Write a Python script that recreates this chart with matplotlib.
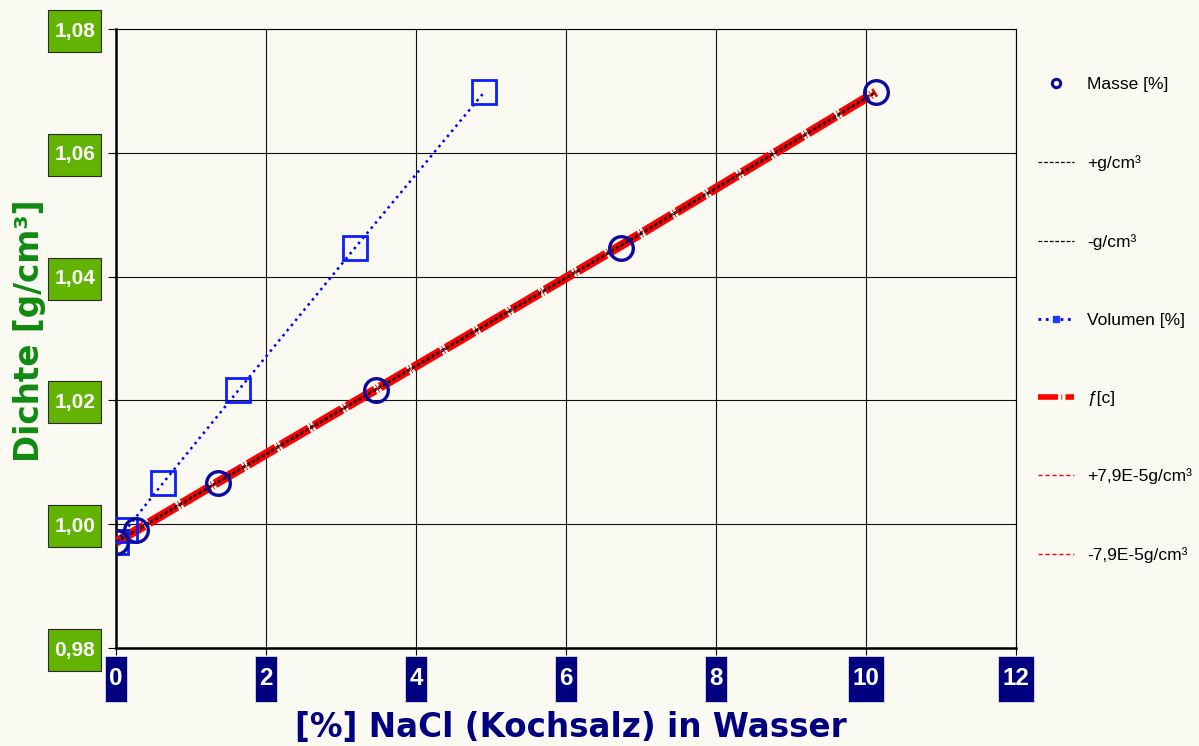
import matplotlib
matplotlib.use("Agg")
import matplotlib.pyplot as plt
from matplotlib.lines import Line2D
from matplotlib.path import Path
import numpy as np

# ---------------- data ----------------
masse_x = [0.0, 0.27, 1.36, 3.47, 6.73, 10.13]
dichte_y = [0.9971, 0.9990, 1.0067, 1.0216, 1.0447, 1.0698]
volumen_x = [0.0, 0.125, 0.63, 1.63, 3.19, 4.91]
fit_x = [0.0, 0.27, 1.36, 3.47, 6.73, 10.13]
fit_y = [0.9971, 0.9990, 1.0068, 1.0218, 1.0450, 1.0698]
band_black = 0.00015
band_red = 0.000079

x_ticks = [0, 2, 4, 6, 8, 10, 12]
x_ticklabels = ["0", "2", "4", "6", "8", "10", "12"]
y_ticks = [0.98, 1.00, 1.02, 1.04, 1.06, 1.08]
y_ticklabels = ["0,98", "1,00", "1,02", "1,04", "1,06", "1,08"]

legend_labels = ["Masse [%]", "+g/cm³", "-g/cm³", "Volumen [%]", "ƒ[c]",
                 "+7,9E-5g/cm³", "-7,9E-5g/cm³"]

# ---------------- style ----------------
BG = "#faf9f2"
GREEN_BOX = "#62b400"
NAVY = "#000080"
CIRCLE_C = "#0a0a9e"
SQUARE_C = "#0a1eff"

fig = plt.figure(figsize=(11.99, 7.46), dpi=100, facecolor=BG)
ax = fig.add_axes([116/1199, 1-648/746, (1016-116)/1199, (648-29)/746])
ax.set_facecolor(BG)

ax.set_xlim(0, 12)
ax.set_ylim(0.98, 1.08)

fx = np.array(fit_x); fy = np.array(fit_y)
# f[c] thick red
ax.plot(fx, fy, color="#ff0000", lw=6.5, dashes=(3.6, 0.27, 0.1, 0.27),
        solid_capstyle="butt", dash_capstyle="butt", zorder=3)
# red thin band
ax.plot(fx, fy + band_red, color="#ff0000", lw=1, dashes=(4, 2.5), zorder=3)
ax.plot(fx, fy - band_red, color="#ff0000", lw=1, dashes=(4, 2.5), zorder=3)
# black band
ax.plot(fx, fy + band_black, color="black", lw=0.9, dashes=(3, 1.5), zorder=4)
ax.plot(fx, fy - band_black, color="black", lw=0.9, dashes=(3, 1.5), zorder=4)
# Volumen
ax.plot(volumen_x, dichte_y, color="#0000ff", lw=1.8, linestyle=":", zorder=4)
ax.plot(volumen_x, dichte_y, linestyle="none", marker="s", ms=17, mfc="none",
        mec=SQUARE_C, mew=2.0, zorder=5)
# Masse
ax.plot(masse_x, dichte_y, linestyle="none", marker="o", ms=17, mfc="none",
        mec=CIRCLE_C, mew=2.4, zorder=6)

# grid & spines
ax.set_xticks(x_ticks)
ax.set_yticks(y_ticks)
ax.grid(True, color="#111111", lw=0.8)
ax.set_axisbelow(True)
for s in ["left", "bottom"]:
    ax.spines[s].set_linewidth(1.8)
for s in ["top", "right"]:
    ax.spines[s].set_linewidth(0.8)
ax.tick_params(axis="y", length=6, width=0.8, pad=9, direction="out")
ax.tick_params(axis="x", length=5, width=0.8, pad=9, direction="out")


def fixed_box(width_px=None, height_px=None, padx=0.0, dy=0.0):
    def box(x0, y0, width, height, mutation_size):
        cx = x0 + width / 2.0
        cy = y0 + height / 2.0 + dy
        w = width_px if width_px is not None else width + 2 * padx
        h = height_px
        verts = [(cx - w/2, cy - h/2), (cx + w/2, cy - h/2), (cx + w/2, cy + h/2),
                 (cx - w/2, cy + h/2), (cx - w/2, cy - h/2)]
        return Path(verts, closed=True)
    return box


ax.set_yticklabels(y_ticklabels, fontsize=15, fontweight="bold", color="white",
                   family=["Liberation Sans", "DejaVu Sans"])
for t in ax.get_yticklabels():
    t.set_bbox(dict(boxstyle=fixed_box(width_px=53, height_px=42), facecolor=GREEN_BOX,
                    edgecolor="#2a2a2a", linewidth=0.8))

ax.set_xticklabels(x_ticklabels, fontsize=17.5, fontweight="bold", color="white",
                   family=["Liberation Sans", "DejaVu Sans"])
for t in ax.get_xticklabels():
    t.set_bbox(dict(boxstyle=fixed_box(height_px=46, padx=4.5), facecolor=NAVY,
                    edgecolor="#dddddd", linewidth=0.6))

# axis titles
fig.text(30/1199, 1-331/746, "Dichte [g/cm³]", rotation=90, ha="center", va="center",
         fontsize=23.5, fontweight="bold", color="#108a10", family="DejaVu Sans")
fig.text(571/1199, 1-727/746, "[%] NaCl (Kochsalz) in Wasser", ha="center", va="center",
         fontsize=23.5, fontweight="bold", color=NAVY, family="DejaVu Sans")

# legend
handles = [
    Line2D([], [], linestyle="none", marker="o", ms=6, mfc="none", mec=CIRCLE_C, mew=2.2),
    Line2D([], [], color="black", lw=0.9, dashes=(3, 1.5)),
    Line2D([], [], color="black", lw=0.9, dashes=(3, 1.5)),
    Line2D([], [], color="#0000ff", lw=2.0, linestyle=":", marker="s", ms=5,
           mfc="#1a3cff", mec="#1a3cff"),
    Line2D([], [], color="#ff0000", lw=4, dashes=(3.6, 0.6, 0.15, 0.6)),
    Line2D([], [], color="#ff0000", lw=1, dashes=(3, 2)),
    Line2D([], [], color="#ff0000", lw=1, dashes=(3, 2)),
]
leg = fig.legend(handles, legend_labels, loc="upper left",
                 bbox_to_anchor=(1038/1199, 1-77/746), frameon=False,
                 prop=dict(family="Liberation Sans", size=12.5),
                 handlelength=2.1, handletextpad=0.75, labelspacing=3.62,
                 borderaxespad=0, borderpad=0)

fig.savefig("out.png", dpi=100, facecolor=BG)
